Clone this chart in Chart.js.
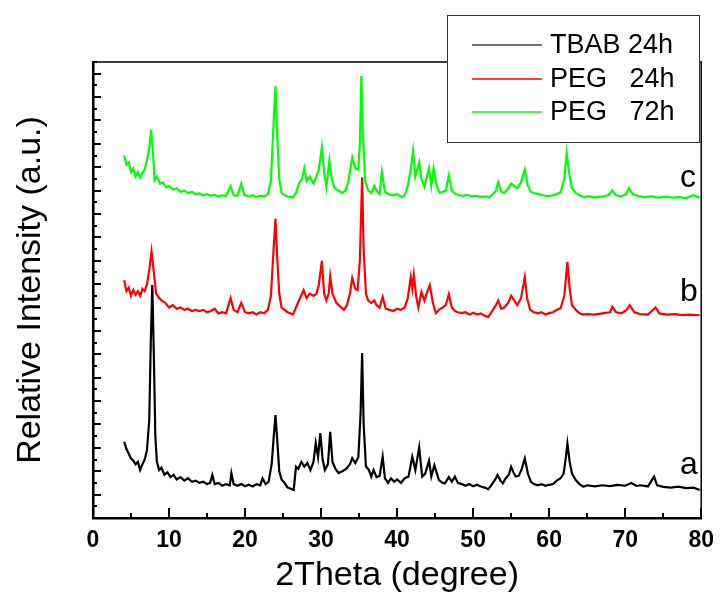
<!DOCTYPE html>
<html>
<head>
<meta charset="utf-8">
<script src="https://cdn.jsdelivr.net/npm/chart.js@4"></script>
<style>
  body { margin: 0; background: #fff; }
  #wrap { width: 723px; height: 597px; }
</style>
</head>
<body>
<div id="wrap"><canvas id="xrdChart" width="723" height="597"></canvas></div>
<script>
// 2Theta positions and offset intensities
const aX = [4.1,4.4,4.7,5.0,5.3,5.6,5.9,6.2,6.5,6.8,7.1,7.4,7.6,7.8,8.0,8.2,8.4,8.7,9.0,9.4,9.8,10.2,10.6,11.0,11.5,12.0,12.5,13.0,13.5,14.0,14.5,15.0,15.4,15.7,16.0,16.5,17.0,17.5,18.0,18.2,18.5,19.0,19.5,20.0,20.5,21.0,21.5,22.0,22.3,22.7,23.1,23.5,23.8,24.0,24.2,24.5,24.8,25.2,25.6,26.0,26.4,26.7,27.0,27.4,27.8,28.2,28.6,29.0,29.3,29.6,29.9,30.2,30.5,30.9,31.2,31.5,31.9,32.3,32.8,33.3,33.8,34.1,34.5,34.9,35.2,35.4,35.6,35.9,36.3,36.6,36.9,37.3,37.7,38.1,38.4,38.8,39.2,39.6,40.0,40.5,41.0,41.5,42.0,42.4,42.9,43.3,43.7,44.2,44.5,44.9,45.5,46.0,46.3,46.8,47.2,47.6,48.0,48.5,49.0,49.5,50.0,50.5,51.0,51.5,52.0,52.5,53.0,53.2,53.6,53.9,54.3,54.7,55.0,55.3,55.6,56.0,56.4,56.8,57.2,57.6,58.0,58.5,59.0,59.5,60.0,60.5,61.0,61.5,61.9,62.2,62.4,62.7,63.0,63.5,64.0,64.5,65.0,66.0,67.0,68.0,69.0,70.0,70.8,71.5,72.0,73.0,73.8,74.2,75.0,76.0,77.0,78.0,79.0,79.8];
const aY = [3.26,2.95,2.75,2.55,2.45,2.3,2.4,2.05,2.3,2.5,2.9,4.2,7.5,9.96,7.0,3.5,2.4,2.05,2.15,1.85,1.95,1.75,1.85,1.65,1.75,1.6,1.7,1.55,1.6,1.5,1.55,1.45,1.5,1.84,1.45,1.5,1.38,1.45,1.4,1.92,1.45,1.38,1.45,1.36,1.42,1.35,1.45,1.4,1.7,1.45,1.55,2.3,3.6,4.4,3.5,2.0,1.65,1.5,1.3,1.25,1.2,2.19,2.1,2.4,2.2,2.35,2.05,2.4,3.2,2.6,3.63,2.5,2.05,2.3,3.69,2.4,2.1,1.92,2.0,2.1,2.3,2.56,2.35,2.6,4.5,7.05,4.0,2.2,2.05,1.77,2.05,1.75,1.8,2.62,1.7,1.5,1.7,1.55,1.65,1.5,1.7,1.77,2.62,2.05,3.02,1.77,1.9,2.45,1.77,2.26,1.62,1.5,1.48,1.75,1.55,1.77,1.5,1.45,1.38,1.45,1.36,1.42,1.35,1.3,1.23,1.45,1.7,1.84,1.6,1.48,1.7,1.85,2.19,1.95,1.77,1.8,2.1,2.55,1.9,1.55,1.45,1.4,1.45,1.38,1.42,1.45,1.6,1.7,1.9,2.6,3.19,2.4,1.9,1.62,1.45,1.34,1.4,1.35,1.4,1.36,1.42,1.38,1.5,1.37,1.4,1.35,1.77,1.4,1.33,1.3,1.34,1.28,1.3,1.2];

const bX = [4.1,4.4,4.7,5.0,5.3,5.6,5.9,6.2,6.5,6.8,7.1,7.4,7.7,7.9,8.1,8.3,8.6,9.0,9.5,10.0,10.5,11.0,11.5,12.0,12.5,13.0,13.5,14.0,14.5,15.0,15.5,16.0,16.5,17.0,17.5,18.1,18.5,19.0,19.5,20.0,20.5,21.0,21.5,22.0,22.5,23.0,23.4,23.7,24.0,24.2,24.5,24.8,25.2,25.6,26.0,26.3,26.7,27.1,27.7,28.1,28.5,29.0,29.4,29.7,30.1,30.4,30.7,31.0,31.2,31.5,32.0,32.5,33.0,33.4,33.8,34.1,34.5,34.8,35.1,35.4,35.6,35.9,36.2,36.6,37.0,37.3,37.7,38.1,38.5,39.0,39.5,40.0,40.5,41.0,41.4,41.8,42.0,42.2,42.5,42.8,43.2,43.6,44.0,44.3,44.7,45.1,45.5,46.0,46.4,46.8,47.2,47.6,48.0,48.5,49.0,49.5,50.0,50.5,51.0,51.5,52.0,52.5,53.0,53.3,53.7,54.1,54.6,55.0,55.4,55.8,56.3,56.8,57.1,57.5,58.0,58.5,59.0,59.5,60.0,60.5,61.0,61.5,62.0,62.4,62.7,63.0,63.5,64.0,64.5,65.0,66.0,67.0,68.0,68.3,68.8,69.5,70.2,70.6,71.2,72.0,73.0,74.0,74.5,75.5,76.5,77.5,78.5,79.8];
const bY = [10.17,9.7,9.85,9.5,9.75,9.55,9.7,9.5,9.8,9.7,10.0,10.6,11.4,10.8,10.2,9.6,9.45,9.3,9.2,9.0,9.1,8.95,9.0,8.9,8.95,8.85,8.9,8.85,8.9,8.8,8.85,8.95,8.75,8.8,8.75,9.4,8.9,8.8,9.2,8.8,8.75,8.8,8.7,8.8,8.75,8.9,9.5,11.2,12.8,11.3,9.6,9.0,8.9,8.8,8.75,8.7,9.0,9.3,9.74,9.4,9.6,9.5,9.6,9.96,11.0,9.6,9.3,9.6,10.34,9.6,9.2,9.05,8.9,9.1,9.6,10.26,9.8,9.74,11.0,14.57,11.5,9.6,9.3,9.2,9.3,9.1,9.0,9.45,8.95,8.9,8.85,8.95,8.9,9.0,9.4,10.3,9.8,10.4,9.5,9.0,9.67,9.3,9.7,9.96,9.2,8.76,8.9,9.0,9.1,9.57,9.0,8.85,8.8,8.76,8.8,8.7,8.78,8.7,8.75,8.65,8.6,8.85,9.1,9.3,8.95,9.0,9.2,9.5,9.3,9.1,9.4,10.3,9.4,8.9,8.8,8.75,8.8,8.7,8.76,8.8,8.9,8.97,9.5,10.95,9.8,9.1,8.9,8.75,8.7,8.72,8.7,8.75,8.8,9.03,8.8,8.75,8.9,9.1,8.8,8.72,8.7,9.0,8.75,8.7,8.72,8.68,8.7,8.67];

const cX = [4.1,4.4,4.7,5.0,5.3,5.6,5.9,6.2,6.5,6.8,7.1,7.4,7.65,7.9,8.1,8.4,8.8,9.2,9.6,10.0,10.5,11.0,11.5,12.0,12.5,13.0,13.5,14.0,14.5,15.0,15.5,16.0,16.5,17.0,17.5,18.1,18.5,19.0,19.5,19.9,20.5,21.0,21.5,22.0,22.5,23.0,23.4,23.7,24.0,24.2,24.5,24.8,25.2,25.6,26.0,26.3,26.7,27.1,27.5,27.8,28.1,28.5,29.0,29.4,29.7,30.1,30.4,30.7,31.1,31.4,31.8,32.3,32.8,33.2,33.6,34.1,34.5,34.9,35.1,35.3,35.5,35.8,36.2,36.6,37.0,37.4,37.7,38.0,38.4,38.9,39.4,40.0,40.6,41.0,41.4,41.8,42.1,42.4,42.9,43.2,43.6,44.2,44.5,44.8,45.2,45.6,46.0,46.4,46.8,47.2,47.7,48.2,48.7,49.2,49.8,50.4,51.0,51.6,52.1,52.6,53.0,53.3,53.7,54.1,54.6,55.0,55.4,55.8,56.3,56.8,57.2,57.6,58.0,58.6,59.2,59.8,60.4,61.0,61.5,62.0,62.3,62.6,63.0,63.5,64.0,64.6,65.3,66.0,67.0,67.8,68.3,68.8,69.5,70.1,70.5,71.0,71.8,72.6,73.5,74.4,75.3,76.2,77.1,78.0,78.9,79.8];
const cY = [15.5,15.1,15.2,14.8,14.95,14.6,14.8,14.55,14.75,14.9,15.3,15.8,16.6,15.6,14.45,14.6,14.3,14.35,14.15,14.2,14.05,14.1,13.95,14.0,13.9,13.95,13.85,13.88,13.8,13.85,13.78,13.82,13.75,13.8,13.78,14.2,13.8,13.78,14.3,13.82,13.75,13.8,13.72,13.78,13.75,13.85,14.4,16.5,18.46,16.6,14.5,13.9,13.8,13.75,13.72,13.7,13.9,14.3,14.5,14.96,14.4,14.6,14.3,14.6,14.9,15.85,14.8,14.15,15.3,14.5,14.1,14.0,13.9,14.0,14.4,15.4,14.95,14.9,16.0,18.9,16.5,14.4,14.0,13.9,14.2,13.95,13.85,14.8,13.95,13.85,13.8,13.85,13.72,13.8,14.2,14.9,15.7,14.6,15.2,14.5,14.15,14.96,14.2,14.96,14.2,13.9,13.95,14.0,14.65,14.0,13.85,13.8,13.78,13.82,13.75,13.78,13.72,13.75,13.7,13.85,14.0,14.36,13.95,13.9,14.1,14.3,14.2,14.1,14.35,14.9,14.2,13.95,13.9,13.85,13.8,13.76,13.8,13.85,13.93,14.5,15.6,14.8,14.1,13.9,13.8,13.72,13.75,13.7,13.75,13.8,14.0,13.8,13.75,13.85,14.1,13.85,13.75,13.72,13.75,13.7,13.74,13.7,13.72,13.68,13.8,13.7];

const seriesNames = ['TBAB 24h', 'PEG   24h', 'PEG   72h'];
const seriesColors = ['#000000', '#ff0000', '#00ff00'];
const traceLetters = ['a', 'b', 'c'];
const letterY = [1.88, 9.3, 14.15];   // baseline of each letter, in y units
const xTicks = [0, 10, 20, 30, 40, 50, 60, 70, 80];

const pairs = (xs, ys) => xs.map((x, i) => ({ x: x, y: ys[i] }));

// inward ticks, frame, legend box and a/b/c labels
const decor = {
    id: 'decor',
    afterDatasetsDraw(chart) {
        const { ctx, chartArea: area, scales: { x, y } } = chart;
        ctx.save();
        ctx.strokeStyle = '#000';
        ctx.lineWidth = 2;
        ctx.beginPath();
        for (let v = 0; v <= 80; v += 5) {
            const px = Math.round(x.getPixelForValue(v));
            const len = v % 10 === 0 ? 10 : 5;
            ctx.moveTo(px, area.bottom);
            ctx.lineTo(px, area.bottom - len);
        }
        for (let v = 0.5; v <= 19.5; v += 0.5) {
            const py = Math.round(y.getPixelForValue(v));
            const len = v % 1 === 0 ? 8 : 4;
            ctx.moveTo(area.left, py);
            ctx.lineTo(area.left + len, py);
        }
        ctx.stroke();

        ctx.lineWidth = 1.5;
        ctx.beginPath();
        ctx.moveTo(area.left, area.top);
        ctx.lineTo(area.right, area.top);
        ctx.lineTo(area.right, area.bottom);
        ctx.stroke();

        ctx.fillStyle = '#000';
        ctx.font = '32px "Liberation Sans", Arial, sans-serif';
        ctx.textAlign = 'left';
        ctx.textBaseline = 'alphabetic';
        traceLetters.forEach((t, i) => {
            ctx.fillText(t, 680, y.getPixelForValue(letterY[i]));
        });

        // legend
        ctx.fillStyle = '#fff';
        ctx.fillRect(447, 15, 252, 127);
        ctx.strokeStyle = '#333';
        ctx.lineWidth = 1;
        ctx.strokeRect(447.5, 15.5, 252, 127);
        ctx.font = '27px "Liberation Sans", Arial, sans-serif';
        ctx.textBaseline = 'middle';
        seriesNames.forEach((name, i) => {
            const ly = Math.round(45 + i * 33.5);
            ctx.beginPath();
            ctx.strokeStyle = i === 0 ? '#444444' : seriesColors[i];
            ctx.lineWidth = 1.6;
            ctx.moveTo(472, ly);
            ctx.lineTo(542, ly);
            ctx.stroke();
            ctx.fillStyle = '#000';
            ctx.fillText(name, 550, ly + 1);
        });
        ctx.restore();
    }
};

const ctx = document.getElementById('xrdChart').getContext('2d');
new Chart(ctx, {
    type: 'line',
    data: {
        datasets: [
            { label: seriesNames[0], data: pairs(aX, aY), borderColor: seriesColors[0], order: 1 },
            { label: seriesNames[1], data: pairs(bX, bY), borderColor: seriesColors[1], order: 0 },
            { label: seriesNames[2], data: pairs(cX, cY), borderColor: seriesColors[2], order: 2 }
        ]
    },
    options: {
        responsive: false,
        animation: false,
        layout: { padding: { top: 62, right: 16, left: 0, bottom: 0 } },
        elements: {
            point: { radius: 0 },
            line: { borderWidth: 2.2, tension: 0 }
        },
        plugins: { legend: { display: false }, tooltip: { enabled: false } },
        scales: {
            x: {
                type: 'linear',
                min: 0,
                max: 80,
                afterBuildTicks: (scale) => { scale.ticks = xTicks.map(v => ({ value: v })); },
                afterFit: (scale) => { scale.height = 79; },
                grid: { display: false, drawTicks: false },
                border: { display: true, color: '#000', width: 2.5 },
                ticks: {
                    autoSkip: false,
                    maxRotation: 0,
                    padding: 9,
                    color: '#000',
                    font: { family: '"Liberation Sans", Arial, sans-serif', size: 23, weight: 'bold' }
                },
                title: {
                    display: true,
                    text: '2Theta (degree)',
                    color: '#000',
                    padding: { top: 0, bottom: 1 },
                    font: { family: '"Liberation Sans", Arial, sans-serif', size: 34 }
                }
            },
            y: {
                type: 'linear',
                min: 0,
                max: 19.5,
                afterFit: (scale) => { scale.width = 93; },
                grid: { display: false, drawTicks: false },
                border: { display: true, color: '#000', width: 2.5 },
                ticks: { display: false },
                title: {
                    display: true,
                    text: 'Relative Intensity (a.u.)',
                    color: '#000',
                    padding: { top: 10, bottom: 0 },
                    font: { family: '"Liberation Sans", Arial, sans-serif', size: 34 }
                }
            }
        }
    },
    plugins: [decor]
});
</script>
</body>
</html>
